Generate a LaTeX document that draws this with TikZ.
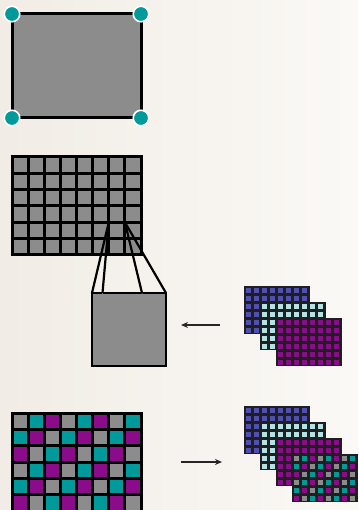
\documentclass[tikz,border=0pt]{standalone}
\usetikzlibrary{arrows.meta}
\definecolor{bgL}{HTML}{F1ECE5}
\definecolor{bgR}{HTML}{FBF9F6}
\definecolor{cellgray}{HTML}{8C8C8C}
\definecolor{tealc}{HTML}{009A9A}
\definecolor{purp}{HTML}{8A0C8A}
\definecolor{bluec}{HTML}{5050B4}
\definecolor{cyanc}{HTML}{B2E2E6}
\colorlet{mixa}{cellgray}
\colorlet{mixb}{tealc}
\colorlet{mixc}{purp}
\newcommand{\stacklayer}[3]{%
  \fill[black!88] (#1,#2) rectangle ++(66,48);
  \foreach \ii in {0,...,7}{\foreach \jj in {0,...,5}{
    \fill[#3] ({#1+1.7+\ii*8.1},{#2+1.6+\jj*8}) rectangle ++(5,5);
  }}%
}
\newcommand{\mixlayer}[2]{%
  \fill[black!88] (#1,#2) rectangle ++(66,48);
  \foreach \ii in {0,...,7}{\foreach \jj in {0,...,5}{
    \pgfmathtruncatemacro{\kk}{mod(\ii+\jj,3)}
    \ifcase\kk \def\cc{mixa}\or \def\cc{mixb}\or \def\cc{mixc}\fi
    \fill[\cc] ({#1+1.7+\ii*8.1},{#2+1.6+\jj*8}) rectangle ++(5,5);
  }}%
}
\begin{document}
\begin{tikzpicture}[x=1pt,y=-1pt,
  gridline/.style={line width=3pt, black},
  rectbox/.style={draw=black, fill=cellgray, anchor=north west, inner sep=0pt, outer sep=0pt},
  corner/.style={circle, fill=tealc, draw=white, line width=1.6pt, minimum size=15.5pt, inner sep=0pt},
  ray/.style={line width=2.2pt, black},
  faint/.style={line width=0.6pt, black!45},
  flow/.style={line width=1.6pt, black!85, -{Stealth[length=7pt,width=6pt]}}]
\useasboundingbox (0,0) rectangle (358,510);
\clip (0,0) rectangle (358,510);
\shade[left color=bgL, right color=bgR] (0,0) rectangle (358,510);

% top rectangle with corner points
\node[rectbox, line width=3pt, minimum width=129pt, minimum height=104pt] (topbox) at (12,14) {};
\node[corner] (cnw) at (topbox.north west) {};
\node[corner] (cne) at (topbox.north east) {};
\node[corner] (csw) at (topbox.south west) {};
\node[corner] (cse) at (topbox.south east) {};

% grid
\fill[cellgray] (12,157) rectangle (141,255);
\foreach \i in {0,...,8}{\draw[gridline] ({12+\i*16.125},157) -- ({12+\i*16.125},255);}
\foreach \j in {0,...,6}{\draw[gridline] (10.5,{157+\j*16.333}) -- (142.5,{157+\j*16.333});}
\coordinate (cA) at (108.75,222.3);
\coordinate (cB) at (124.9,222.3);

% zoomed box
\node[rectbox, line width=2.2pt, minimum width=74pt, minimum height=73pt] (box) at (92,293) {};
\coordinate (t1) at (102.5,293);
\coordinate (t2) at (142,293);
\draw[faint] (t1) -- (97,364);
\draw[faint] (t2) -- (162,362);
\draw[ray] (cA) -- (box.north west);
\draw[ray] (cA) -- (t1);
\draw[ray] (cB) -- (t2);
\draw[ray] (cB) -- (box.north east);

% stack 1
\stacklayer{244}{286}{bluec}
\stacklayer{260}{302}{cyanc}
\stacklayer{276}{318}{purp}
\coordinate (s1) at (220,325);
\coordinate (b1) at (181,325);
\draw[flow] (s1) -- (b1);

% bottom coloured grid
\foreach \i in {0,...,7}{\foreach \j in {0,...,5}{
  \pgfmathtruncatemacro{\kk}{mod(\i+\j,3)}
  \ifcase\kk \def\cc{mixa}\or \def\cc{mixb}\or \def\cc{mixc}\fi
  \fill[\cc] ({12+\i*16.125},{413+\j*16.333}) rectangle ++(16.125,16.333);
}}
\foreach \i in {0,...,8}{\draw[gridline] ({12+\i*16.125},413) -- ({12+\i*16.125},512);}
\foreach \j in {0,...,6}{\draw[gridline] (10.5,{413+\j*16.333}) -- (142.5,{413+\j*16.333});}

% arrow right
\coordinate (g2) at (181,462);
\coordinate (s2) at (222,462);
\draw[flow] (g2) -- (s2);

% stack 2
\stacklayer{244}{406}{bluec}
\stacklayer{260}{422}{cyanc}
\stacklayer{276}{438}{purp}
\mixlayer{292}{454}
\end{tikzpicture}
\end{document}
